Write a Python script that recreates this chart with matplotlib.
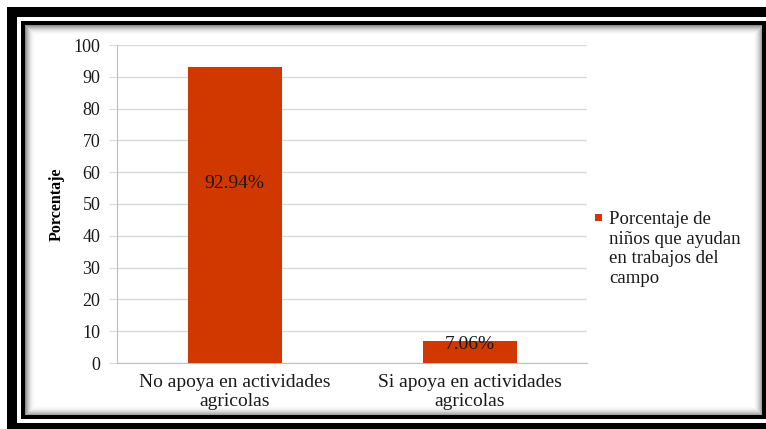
import matplotlib
matplotlib.use('Agg')
import matplotlib.pyplot as plt
from matplotlib.patches import Rectangle
from matplotlib.container import BarContainer
from matplotlib.legend_handler import HandlerPatch

categories = ['No apoya en actividades\nagricolas', 'Si apoya en actividades\nagricolas']
values = [92.94, 7.06]
value_labels = ['92.94%', '7.06%']
series_name = 'Porcentaje de\nniños que ayudan\nen trabajos del\ncampo'
yticks = [0, 10, 20, 30, 40, 50, 60, 70, 80, 90, 100]

W, H = 766, 429
BAR = '#D03800'
GRID = '#D9D9D9'
TXT = '#1A1A1A'

plt.rcParams['font.family'] = ['Liberation Serif', 'DejaVu Serif']

fig = plt.figure(figsize=(W / 100, H / 100), dpi=100)
fig.patch.set_facecolor('white')


def px_rect(x0, y0, x1, y1, **kw):
    # rectangle given in image pixels (top-left origin), drawn under the axes
    r = Rectangle((x0 / W, 1 - y1 / H), (x1 - x0) / W, (y1 - y0) / H,
                  transform=fig.transFigure, zorder=-5, **kw)
    fig.patches.append(r)
    return r


# picture frame: thick black, white gap, thin black, inner shadow
px_rect(7, 7, W + 5, H + 5, facecolor='black', edgecolor='none')
px_rect(17, 17, W + 5, 423, facecolor='white', edgecolor='none')
px_rect(21, 21, W + 5, 419, facecolor='black', edgecolor='none')
px_rect(25, 25, 762, 415, facecolor='white', edgecolor='none')
for i in range(10):
    a = 0.45 * (1 - i / 10) ** 2
    px_rect(25 + i, 25 + i, 762 - i, 415 - i, facecolor='none',
            edgecolor=(0, 0, 0, a), linewidth=0.72)

ax = fig.add_axes([117 / W, (H - 363) / H, 470 / W, 318 / H])
ax.set_facecolor('none')

x = range(len(categories))
bars = ax.bar(x, values, width=0.4, color=BAR, zorder=3, label=series_name)

ax.set_xlim(-0.5, 1.5)
ax.set_ylim(0, 100)
ax.set_yticks(yticks)
ax.set_xticks(list(x))
ax.set_xticklabels(categories, fontsize=14, color=TXT, linespacing=1.12)
ax.tick_params(axis='x', length=0, pad=8)
ax.tick_params(axis='y', length=6, color=GRID, labelsize=13, labelcolor=TXT, pad=6)
ax.grid(axis='y', color=GRID, linewidth=1, zorder=0)
for s in ['top', 'right']:
    ax.spines[s].set_visible(False)
ax.spines['left'].set_color('#BFBFBF')
ax.spines['bottom'].set_color('#BFBFBF')

ax.set_ylabel('Porcentaje', fontsize=11.5, fontweight='bold', color='black')
ax.yaxis.set_label_coords(-0.111, 0.5)

# data labels
label_y = [56.3, 5.7]
for b, lab, ly in zip(bars, value_labels, label_y):
    ax.text(b.get_x() + b.get_width() / 2, ly, lab, ha='center', va='center',
            fontsize=14, color=TXT, zorder=4)


def top_square(legend, orig_handle, xdescent, ydescent, width, height, fontsize):
    # legend centres the handle on the label; lift the swatch to the first line
    s = 5.0
    return Rectangle((width - s, 1.9 * fontsize - 1.0), s, s)


def first_bar(legend_handle, orig_handle):
    legend_handle.update_from(orig_handle.patches[0])


leg = ax.legend(loc='upper left', bbox_to_anchor=(593 / W, 1 - 211 / H),
                bbox_transform=fig.transFigure, frameon=False, fontsize=13.5,
                handlelength=0.5, handletextpad=0.35, borderpad=0, borderaxespad=0,
                handler_map={BarContainer: HandlerPatch(patch_func=top_square,
                                                        update_func=first_bar)})
for t in leg.get_texts():
    t.set_linespacing(1.2)
    t.set_color(TXT)

fig.savefig('out.png', dpi=100)
